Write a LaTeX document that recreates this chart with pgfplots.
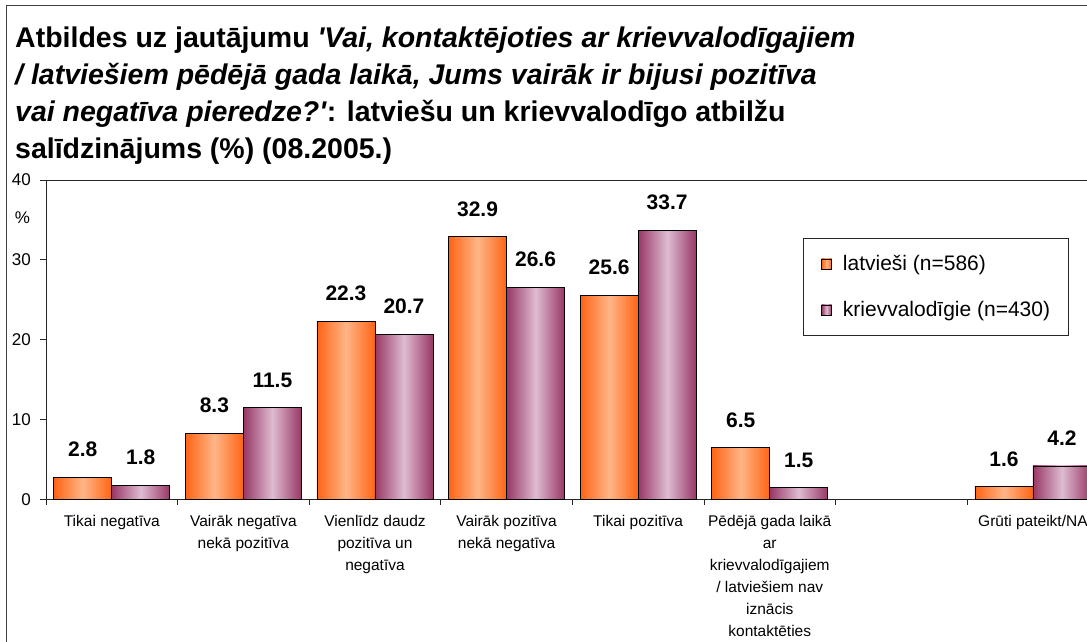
\documentclass[border=0pt]{standalone}
\usepackage{pgfplots}
\pgfplotsset{compat=1.18}
\usepackage{fontspec}
\setmainfont{Liberation Sans}
\definecolor{orD}{HTML}{FF6414}
\definecolor{orL}{HTML}{FFB587}
\definecolor{puD}{HTML}{983766}
\definecolor{puL}{HTML}{DEBCD0}
\definecolor{frm}{HTML}{404040}
\pgfplotsset{
  orbar/.style={draw=black, line width=0.6pt, left color=orD, right color=orD, middle color=orL, bar shift=-29pt},
  pubar/.style={draw=black, line width=0.6pt, left color=puD, right color=puD, middle color=puL, bar shift=29pt},
}
\begin{document}
\begin{tikzpicture}[x=1pt,y=1pt]
\path[use as bounding box, clip] (0,0) rectangle (1087,642);
\fill[white] (0,0) rectangle (1087,642);
\draw[frm, line width=1.8pt] (6.5,-20) -- (6.5,636.5) -- (1120,636.5);
\begin{scope}[every node/.style={anchor=base west, inner sep=0pt, font=\fontsize{28.5}{34}\selectfont\bfseries}]
\node at (15,594.5) {Atbildes uz jautājumu \textit{\textquotesingle Vai, kontaktējoties ar krievvalodīgajiem}};
\node at (15,557.5) {\textit{/ latviešiem pēdējā gada laikā, Jums vairāk ir bijusi pozitīva}};
\node at (15,520.5) {\textit{vai negatīva pieredze?\textquotesingle}: latviešu un krievvalodīgo atbilžu};
\node at (15,483.5) {salīdzinājums (\%) (08.2005.)};
\end{scope}
\node[font=\fontsize{17}{20}\selectfont, inner sep=0pt] at (22.5,424.5) {\%};
\begin{axis}[
  at={(46pt,142.5pt)}, anchor=south west,
  scale only axis, width=1052.8pt, height=319.5pt,
  xmin=-0.5, xmax=7.5, ymin=0, ymax=40,
  ybar=0pt, bar width=58pt,
  axis line style={black!85, line width=0.9pt},
  xtick={-0.5,0.5,...,7.5}, xticklabels={},
  extra x ticks={0,1,2,3,4,5,6,7},
  extra x tick labels={Tikai negatīva, {Vairāk negatīva\\nekā pozitīva}, {Vienlīdz daudz\\pozitīva un\\negatīva}, {Vairāk pozitīva\\nekā negatīva}, Tikai pozitīva, {Pēdējā gada laikā\\ar\\krievvalodīgajiem\\/ latviešiem nav\\iznācis\\kontaktēties}, {}, Grūti pateikt/NA},
  extra x tick style={major tick length=0pt},
  ytick={0,10,20,30,40},
  tick align=outside, tick pos=left,
  major tick length=5.5pt,
  tick style={black!85, line width=0.9pt},
  /pgf/number format/assume math mode=true,
  yticklabel style={font=\fontsize{17}{20}\selectfont, inner sep=0pt, anchor=east, xshift=-9.5pt},
  xticklabel style={font=\fontsize{15.5}{22}\selectfont, align=center, inner sep=0pt, anchor=north, yshift=-16pt},
  nodes near coords={\pgfmathprintnumber[fixed,fixed zerofill,precision=1,assume math mode=true]{\pgfplotspointmeta}},
  every node near coord/.append style={font=\fontsize{21}{25}\selectfont\bfseries, anchor=base, inner sep=0pt, yshift=20.5pt, black},
  legend style={at={(0.719,0.8185)}, anchor=north west, draw=black!85, line width=0.8pt,
    font=\fontsize{21}{25}\selectfont, inner xsep=18pt, inner ysep=16pt, row sep=27pt, column sep=0pt,
    nodes={inner sep=0pt, text height=16pt, text depth=3pt}},
  legend cell align=left,
  legend image code/.code={\draw[#1, draw=black, line width=0.6pt] (0pt,-5pt) rectangle (10pt,5pt); \path (21pt,0pt);},
]
% latviesi (n=586)
\addplot[orbar] coordinates {(0,2.8)};
\addlegendentry{latvieši (n=586)}
\addplot[orbar, forget plot] coordinates {(1,8.3)};
\addplot[orbar, forget plot] coordinates {(2,22.3)};
\addplot[orbar, forget plot] coordinates {(3,32.9)};
\addplot[orbar, forget plot] coordinates {(4,25.6)};
\addplot[orbar, forget plot] coordinates {(5,6.5)};
\addplot[orbar, forget plot] coordinates {(7,1.6)};
% krievvalodigie (n=430)
\addplot[pubar] coordinates {(0,1.8)};
\addlegendentry{krievvalodīgie (n=430)}
\addplot[pubar, forget plot] coordinates {(1,11.5)};
\addplot[pubar, forget plot] coordinates {(2,20.7)};
\addplot[pubar, forget plot] coordinates {(3,26.6)};
\addplot[pubar, forget plot] coordinates {(4,33.7)};
\addplot[pubar, forget plot] coordinates {(5,1.5)};
\addplot[pubar, forget plot] coordinates {(7,4.2)};
\end{axis}
\end{tikzpicture}
\end{document}
